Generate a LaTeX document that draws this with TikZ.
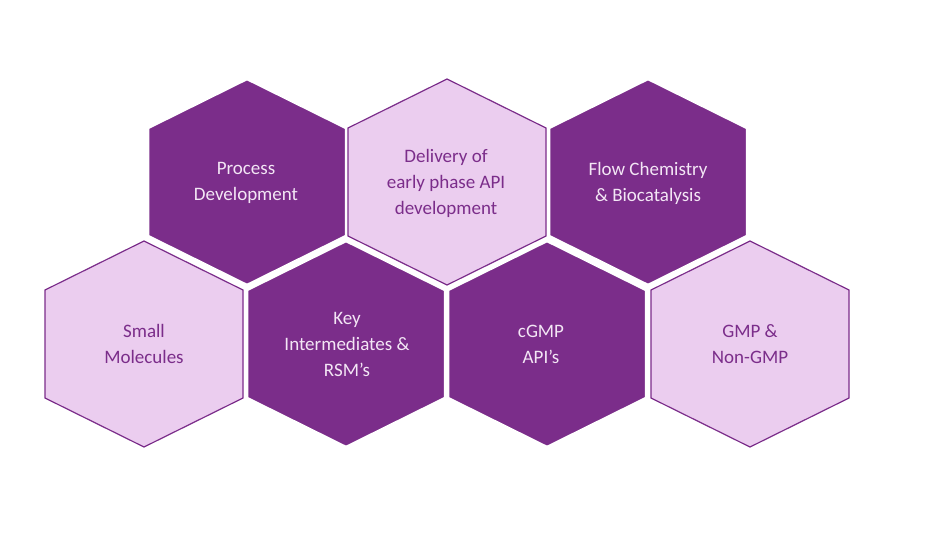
\documentclass[tikz,border=0pt]{standalone}
\usepackage{fontspec}
\setmainfont{Carlito}
\definecolor{dark}{HTML}{7B2D8A}
\definecolor{light}{HTML}{EBCDEF}
\definecolor{dtext}{HTML}{F3E6F5}
\begin{document}
\begin{tikzpicture}[x=1pt,y=-1pt,
  darkhex/.style={fill=dark,draw=white,line width=2.5pt},
  lighthex/.style={fill=light,draw=dark,line width=1.2pt},
  dlab/.style={text=dtext,align=center,font=\fontsize{19}{26}\selectfont},
  llab/.style={text=dark,align=center,font=\fontsize{19}{26}\selectfont}]
\useasboundingbox (0,0) rectangle (926,558);
\newcommand\hexpath[3]{\path[#3] (#1,#2-103) -- (#1+99,#2-54) -- (#1+99,#2+54) -- (#1,#2+103) -- (#1-99,#2+54) -- (#1-99,#2-54) -- cycle;}
\hexpath{144}{344}{lighthex}
\hexpath{346}{344}{darkhex}
\hexpath{547}{344}{darkhex}
\hexpath{750}{344}{lighthex}
\hexpath{247}{182}{darkhex}
\hexpath{447}{182}{lighthex}
\hexpath{648}{182}{darkhex}
\node[dlab] (pd) at (246,183) {Process\\Development};
\node[llab] (de) at (446,183) {Delivery of\\early phase API\\development};
\node[dlab] (fc) at (648,183) {Flow Chemistry\\\& Biocatalysis};
\node[llab] (sm) at (144,344) {Small\\Molecules};
\node[dlab] (ki) at (347,344) {Key\\Intermediates \&\\RSM’s};
\node[dlab] (cg) at (541,344) {cGMP\\API’s};
\node[llab] (gm) at (750,344) {GMP \&\\Non-GMP};
\end{tikzpicture}
\end{document}
